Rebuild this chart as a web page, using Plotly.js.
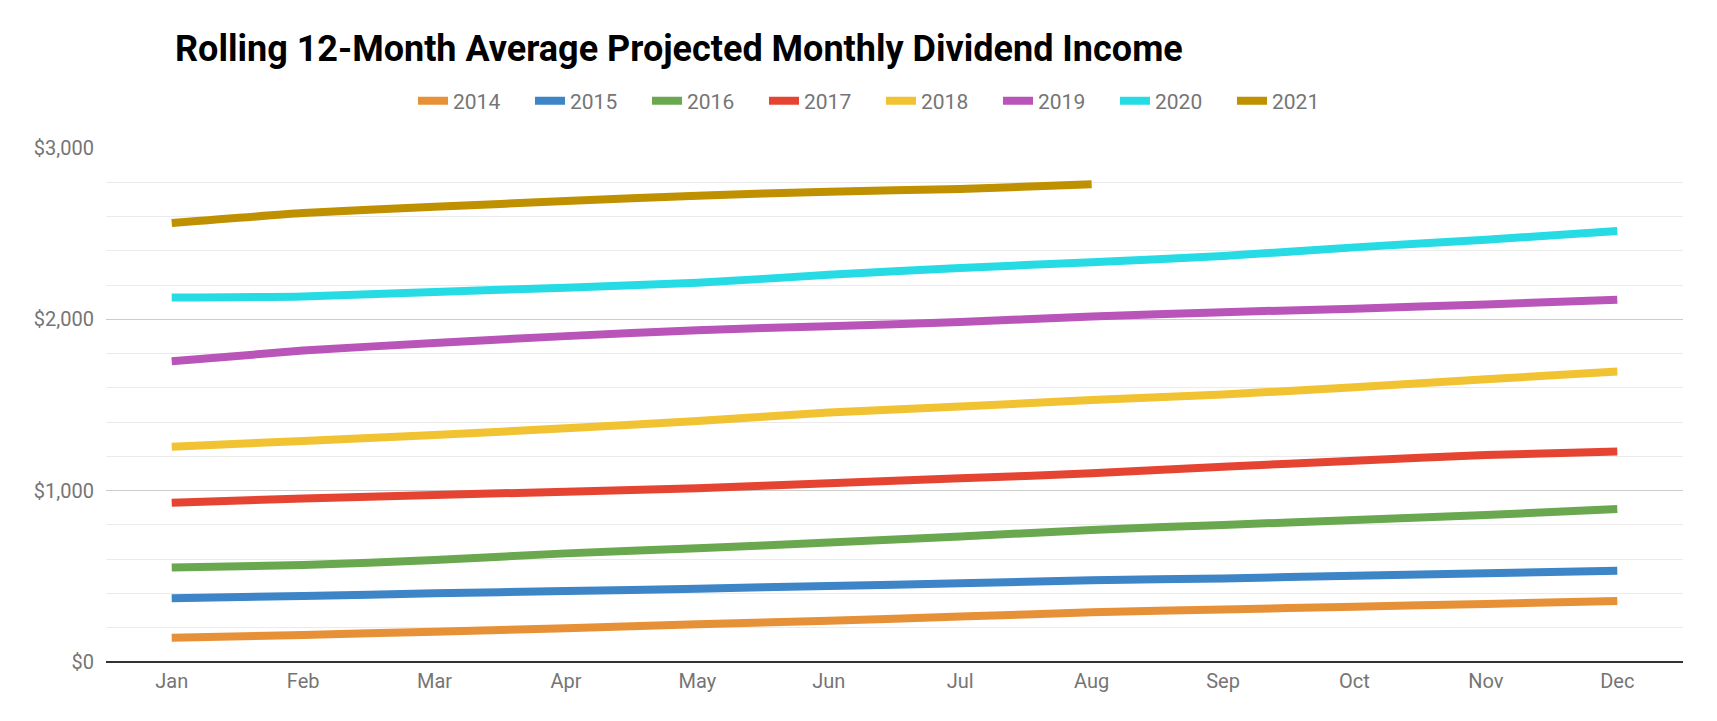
<!DOCTYPE html>
<html>
<head>
<meta charset="utf-8">
<script src="https://cdn.plot.ly/plotly-3.0.1.min.js"></script>
<style>
  html, body { margin: 0; padding: 0; background: #fff; }
  #chart { width: 1717px; height: 721px; }
</style>
</head>
<body>
<div id="chart"></div>
<script>
// months on the x axis
var months = ['Jan','Feb','Mar','Apr','May','Jun','Jul','Aug','Sep','Oct','Nov','Dec'];

// rolling 12-month average projected monthly dividend income, per year
var y2014 = [142, 158, 177, 197, 220, 241, 265, 290, 307, 323, 339, 356];
var y2015 = [372, 385, 401, 414, 428, 444, 459, 477, 488, 504, 518, 533];
var y2016 = [551, 566, 595, 634, 664, 697, 732, 771, 800, 829, 858, 893];
var y2017 = [930, 955, 975, 994, 1014, 1043, 1072, 1101, 1140, 1175, 1208, 1228];
var y2018 = [1257, 1290, 1325, 1364, 1407, 1456, 1491, 1529, 1562, 1603, 1650, 1695];
var y2019 = [1755, 1818, 1862, 1902, 1937, 1960, 1984, 2017, 2042, 2062, 2087, 2114];
var y2020 = [2127, 2133, 2160, 2185, 2213, 2260, 2300, 2333, 2370, 2420, 2465, 2515];
var y2021 = [2562, 2620, 2657, 2690, 2722, 2745, 2761, 2788];

var years = ['2014','2015','2016','2017','2018','2019','2020','2021'];
var series = [y2014, y2015, y2016, y2017, y2018, y2019, y2020, y2021];
var colors = ['#e69138','#3d85c6','#6aa84f','#e64433','#f1c232','#b954b8','#27dbe5','#bf9000'];

var data = [];
for (var i = 0; i < series.length; i++) {
  data.push({
    x: months.slice(0, series[i].length),
    y: series[i],
    name: years[i],
    type: 'scatter',
    mode: 'lines',
    line: { color: colors[i], width: 8, shape: 'spline', smoothing: 0.5 },
    hoverinfo: 'x+y+name'
  });
}

var layout = {
  width: 1717,
  height: 721,
  paper_bgcolor: '#ffffff',
  plot_bgcolor: '#ffffff',
  font: { family: 'Roboto, sans-serif', color: '#757575', size: 20 },
  margin: { l: 106, r: 34, t: 148, b: 59 },
  title: {
    text: '<b>Rolling 12-Month Average Projected Monthly Dividend Income</b>',
    font: { family: 'Roboto, sans-serif', size: 36, color: '#000000' },
    xref: 'container', x: 175 / 1717, xanchor: 'left',
    yref: 'container', y: 1 - 48 / 721, yanchor: 'middle'
  },
  showlegend: true,
  legend: {
    orientation: 'h',
    xref: 'container', x: 413 / 1717, xanchor: 'left',
    yref: 'container', y: 1 - 101 / 721, yanchor: 'middle',
    font: { size: 21, color: '#757575' },
    entrywidth: 72, entrywidthmode: 'pixels',
    traceorder: 'normal'
  },
  xaxis: {
    type: 'category',
    categoryorder: 'array',
    categoryarray: months,
    range: [-0.5, 11.5],
    showgrid: false,
    zeroline: false,
    showline: false,
    ticks: '',
    ticklabelstandoff: 5,
    tickfont: { size: 20, color: '#757575' },
    fixedrange: true
  },
  yaxis: {
    range: [0, 3000],
    tickvals: [0, 1000, 2000, 3000],
    ticktext: ['$0', '$1,000', '$2,000', '$3,000'],
    showgrid: true,
    gridcolor: '#cccccc',
    gridwidth: 1,
    minor: { dtick: 200, tick0: 0, showgrid: true, gridcolor: '#ebebeb', gridwidth: 1 },
    zeroline: true,
    zerolinecolor: '#333333',
    zerolinewidth: 2,
    showline: false,
    ticks: '',
    ticklabelstandoff: 11,
    tickfont: { size: 20, color: '#757575' },
    fixedrange: true
  }
};

Plotly.newPlot('chart', data, layout, { displayModeBar: false, staticPlot: true });
</script>
</body>
</html>
